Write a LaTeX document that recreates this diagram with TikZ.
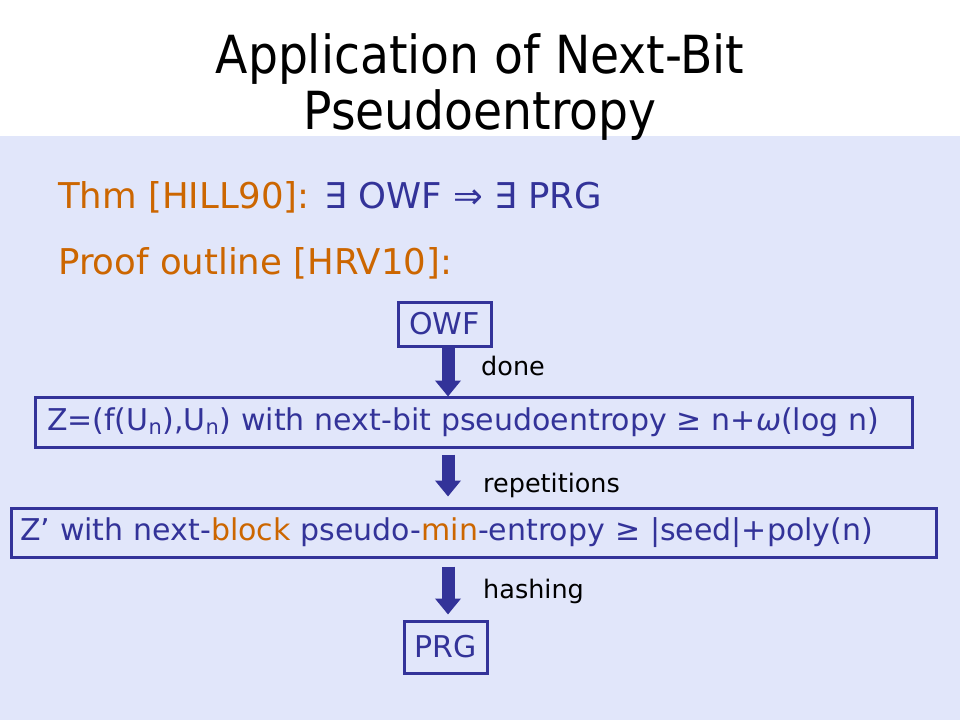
\documentclass[tikz,border=0pt]{standalone}
\usepackage{fontspec}
\setmainfont{DejaVu Sans}
\newfontfamily\titlefont{DejaVu Sans Condensed}
\usetikzlibrary{arrows.meta}
\definecolor{bgblue}{RGB}{225,230,250}
\definecolor{dblue}{RGB}{51,51,153}
\definecolor{orng}{RGB}{204,102,0}
\tikzset{
  stepbox/.style={draw=dblue, line width=3pt, text=dblue, inner sep=0pt, font=\fontsize{30}{34}\selectfont},
  bigarrow/.style={draw=dblue, line width=13pt, -{Triangle[width=25pt,length=16pt]}},
  arrlabel/.style={anchor=base west, font=\fontsize{25.5}{30}\selectfont, text=black, inner sep=0pt},
  titleline/.style={anchor=base, font=\titlefont\fontsize{52.5}{60}\selectfont, inner sep=0pt},
  bigline/.style={anchor=base west, font=\fontsize{35.5}{42}\selectfont, inner sep=0pt},
}
\begin{document}
\begin{tikzpicture}[x=1pt,y=-1pt]
\useasboundingbox (0,0) rectangle (960,720);
\fill[white] (0,0) rectangle (960,136);
\fill[bgblue] (0,136) rectangle (960,720);
\node[titleline] (title1) at (480,73) {Application of Next-Bit};
\node[titleline] (title2) at (480,129) {Pseudoentropy};
\node[bigline] (thm) at (58,208) {\textcolor{orng}{Thm [HILL90]:} \textcolor{dblue}{∃ OWF ⇒ ∃ PRG}};
\node[bigline, text=orng] (proof) at (58,274) {Proof outline [HRV10]:};
\node[stepbox, minimum width=93pt, minimum height=44pt] (owf) at (444.5,324) {OWF};
\node[stepbox, inner xsep=12pt, text width=853pt, align=left, minimum height=50pt] (z) at (473.5,422) {Z=(f(U\textsubscript{n}),U\textsubscript{n}) with next-bit pseudoentropy ≥ n+\textit{ω}(log n)};
\node[stepbox, inner xsep=9pt, text width=907pt, align=left, minimum height=49pt] (zp) at (473.5,532.5) {Z’ with next-\textcolor{orng}{block} pseudo-\textcolor{orng}{min}-entropy ≥ |seed|+poly(n)};
\node[stepbox, minimum width=83pt, minimum height=52pt] (prg) at (445.5,647) {PRG};
\coordinate (ax) at (448,0);
\draw[bigarrow] (ax |- owf.south) -- ([yshift=-1pt]ax |- z.north);
\draw[bigarrow] ([yshift=-6pt]ax |- z.south) -- ([yshift=10pt]ax |- zp.north);
\draw[bigarrow] ([yshift=-8pt]ax |- zp.south) -- ([yshift=5pt]ax |- prg.north);
\node[arrlabel] (l1) at (481,375) {done};
\node[arrlabel] (l2) at (483,492) {repetitions};
\node[arrlabel] (l3) at (483,598) {hashing};
\end{tikzpicture}
\end{document}
